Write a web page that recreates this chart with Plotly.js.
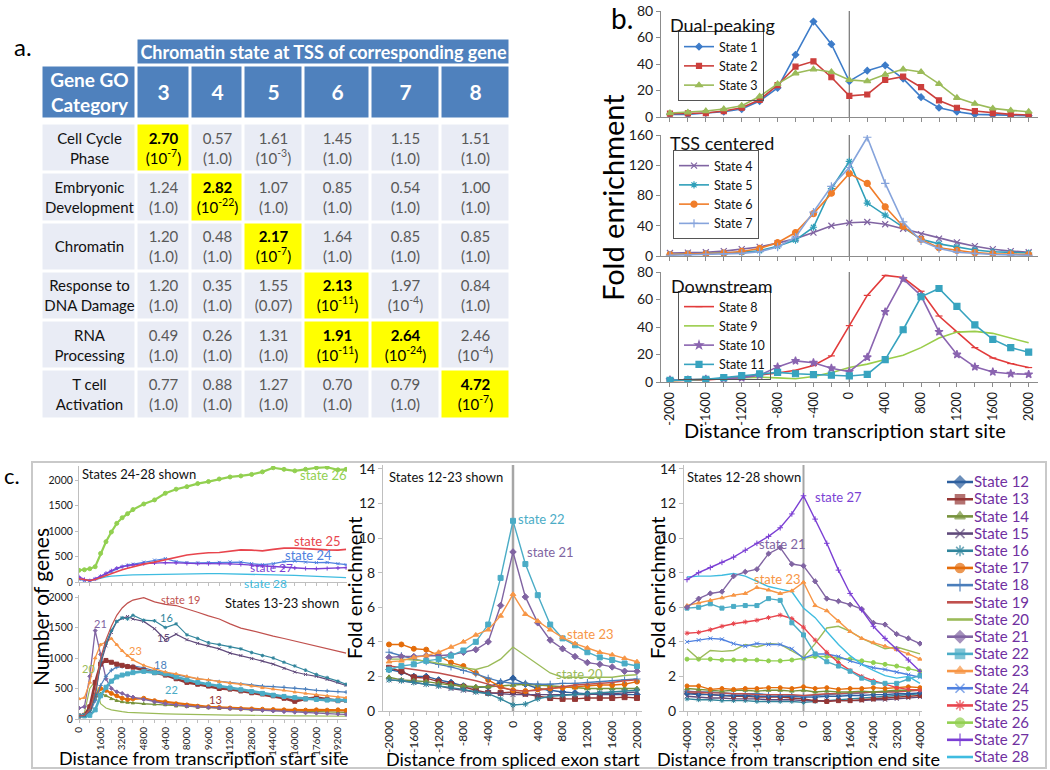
<!DOCTYPE html>
<html>
<head>
<meta charset="utf-8">
<script src="https://cdn.plot.ly/plotly-3.0.1.min.js"></script>
<style>
html,body{margin:0;padding:0;background:#ffffff;}
#chart{width:1050px;height:770px;}
</style>
</head>
<body>
<div id="chart"></div>
<script>
// ================= DATA =================
// ---- Panel a: GO category enrichment ----
const goCategories = ['Cell Cycle<br>Phase','Embryonic<br>Development','Chromatin','Response to<br>DNA Damage','RNA<br>Processing','T cell<br>Activation'];
const tssStates = ['3','4','5','6','7','8'];
const foldValues = [
  [2.70,0.57,1.61,1.45,1.15,1.51],
  [1.24,2.82,1.07,0.85,0.54,1.00],
  [1.20,0.48,2.17,1.64,0.85,0.85],
  [1.20,0.35,1.55,2.13,1.97,0.84],
  [0.49,0.26,1.31,1.91,2.64,2.46],
  [0.77,0.88,1.27,0.70,0.79,4.72]
];
const pValues = [
  ['10^-7','1.0','10^-3','1.0','1.0','1.0'],
  ['1.0','10^-22','1.0','1.0','1.0','1.0'],
  ['1.0','1.0','10^-7','1.0','1.0','1.0'],
  ['1.0','1.0','0.07','10^-11','10^-4','1.0'],
  ['1.0','1.0','1.0','10^-11','10^-24','10^-4'],
  ['1.0','1.0','1.0','1.0','1.0','10^-7']
];
const significant = [
  [true,false,false,false,false,false],
  [false,true,false,false,false,false],
  [false,false,true,false,false,false],
  [false,false,false,true,false,false],
  [false,false,false,true,true,false],
  [false,false,false,false,false,true]
];

// ---- Panel b: fold enrichment around TSS ----
const bDistance = [-2000,-1800,-1600,-1400,-1200,-1000,-800,-600,-400,-200,0,200,400,600,800,1000,1200,1400,1600,1800,2000];
const bTickLabels = ['-2000','-1600','-1200','-800','-400','0','400','800','1200','1600','2000'];
const bState1 = [2,2,3,4,6,12,22,47,72,55,27,35,39,29,15,7,4,2,1.5,1,1];
const bState2 = [2.5,2.8,3,4.5,7,13,24,38,42,30,16,17,28,30.5,22.5,12.5,7,4.5,3,2,1.5];
const bState3 = [3,3.5,4.5,6,8.5,15.5,25,33,36,34,28,27,32,36,34,25,14.5,10,6.5,5,4];
const bState4 = [4,4.5,5,6.5,9,12,17,23,31,40,44,45,42,36,29,23,18,13,9,6.5,5];
const bState5 = [2,2.5,3,3.5,5,7,13,21,38,89,125,70,54,39,22,16,11.5,8,5.7,4.5,4];
const bState6 = [2,2.5,3,4,6,10,17.6,31,56,83,109,96,65,39,22,11,7.5,4.4,3,2.5,2];
const bState7 = [1,1.5,2,2.5,3.5,5.7,12,25,58,92,117,157,96,45,20,10,5,3,2,1.5,1];
const bState8 = [1,1.2,1.5,2.4,3.7,5,6.5,8.5,12,19,41,63,77.5,76,66,48,36.5,25,17.5,13.4,10.5];
const bState9 = [1,1.5,2,2.5,3,3.5,3,2.4,4,6.8,10.5,13,16.3,19.5,25,32,36.3,36.8,35.4,32,28.5];
const bState10 = [1.5,1.5,2,2.5,3,5,11,15.4,14,10,7.5,18,51,75,62.7,36.5,20,11,7.3,6,5.6];
const bState11 = [1.2,1.7,2,3.2,4.6,6,7,6,5.4,5,4.4,5.5,16.3,38,62,68,55,41.5,31,25,21.7];

// ---- Panel c ----
const stateNames = ['State 12','State 13','State 14','State 15','State 16','State 17','State 18','State 19','State 20','State 21','State 22','State 23','State 24','State 25','State 26','State 27','State 28'];
// number of genes vs distance from TSS
const tssDistance = [0,400,800,1200,1600,2000,2400,2800,3200,3600,4000,4800,5600,6400,7200,8000,8800,9600,10400,11200,12000,12800,13600,14400,15200,16000,16800,17600,18400,19200,19800];
const tssTickLabels = ['0','1600','3200','4800','6400','8000','9600','11200','12800','14400','16000','17600','19200'];
const tssState13 = [50,60,200,600,900,960,930,900,880,860,850,800,760,720,660,600,570,540,500,490,460,430,410,380,340,290,330,350,320,300,310];
const tssState14 = [50,60,150,330,420,380,330,300,280,270,260,250,240,230,210,200,190,180,170,165,160,150,145,140,135,130,125,120,115,110,110];
const tssState15 = [50,60,130,380,900,1200,1420,1600,1650,1680,1640,1600,1480,1300,1390,1300,1240,1200,1150,1080,1040,990,950,900,830,770,730,700,650,600,550];
const tssState16 = [50,60,140,400,950,1250,1450,1600,1660,1640,1700,1620,1610,1500,1560,1380,1320,1250,1220,1180,1150,1090,1040,1000,930,870,800,730,680,620,570];
const tssState17 = [50,60,180,380,500,470,420,380,340,320,330,340,300,280,250,230,210,200,190,180,170,165,160,155,150,150,145,150,145,150,140];
const tssState18 = [50,60,100,300,550,700,800,850,860,870,870,840,790,760,720,690,660,640,610,590,570,555,540,530,520,505,490,470,460,450,440];
const tssState19 = [50,60,150,450,1000,1300,1520,1700,1820,1900,1950,1990,1920,1880,1860,1810,1750,1690,1640,1560,1490,1450,1400,1360,1320,1280,1240,1200,1160,1110,1080];
const tssState20 = [50,100,500,620,250,180,150,130,120,110,105,95,90,85,80,75,75,70,70,65,65,60,60,55,55,50,50,50,45,45,45];
const tssState21 = [180,200,700,1450,1060,660,500,446,420,380,360,320,280,250,230,210,200,190,180,170,160,150,140,130,120,110,100,95,90,80,75];
const tssState22 = [50,50,60,150,380,520,620,690,720,740,760,780,760,740,690,640,600,570,540,510,480,450,420,390,370,350,330,320,310,305,310];
const tssState23 = [330,350,600,1000,1220,1260,1320,1220,1120,1040,970,880,820,770,740,700,660,640,610,590,570,540,510,490,470,440,420,400,380,360,350];
const tssState24 = [50,30,30,60,110,160,210,260,300,330,350,390,430,460,400,380,375,380,385,395,390,360,340,360,400,410,390,380,385,360,340];
const tssState25 = [65,40,30,50,90,130,170,200,240,270,300,350,390,440,490,530,555,575,580,610,630,625,610,640,665,665,650,640,630,625,640];
const tssState26 = [230,240,260,300,560,790,980,1150,1260,1340,1420,1530,1610,1740,1820,1870,1930,1970,2020,2060,2080,2110,2160,2240,2210,2180,2210,2240,2250,2200,2210];
const tssState27 = [100,50,25,60,110,170,220,270,300,320,335,360,375,380,375,365,360,360,360,355,345,330,315,300,290,275,265,260,265,275,280];
const tssState28 = [60,35,25,45,80,100,115,125,130,135,140,145,150,155,160,162,165,165,163,160,158,155,150,145,140,130,120,110,100,90,85];
// fold enrichment vs distance from spliced exon start
const exonDistance = [-2000,-1800,-1600,-1400,-1200,-1000,-800,-600,-400,-200,0,200,400,600,800,1000,1200,1400,1600,1800,2000];
const exonTickLabels = ['-2000','-1600','-1200','-800','-400','0','400','800','1200','1600','2000'];
const exonState12 = [2.4,2.25,2.0,2.0,1.8,1.65,1.45,1.35,1.4,1.65,1.9,1.55,1.3,1.2,1.1,1.05,1.0,0.95,0.95,0.95,0.95];
const exonState13 = [2.5,2.3,1.95,1.9,1.7,1.55,1.4,1.2,1.05,1.05,1.1,1.0,0.85,0.75,0.7,0.7,0.75,0.75,0.75,0.8,0.75];
const exonState14 = [1.95,1.8,1.75,1.7,1.6,1.5,1.45,1.4,1.4,1.45,1.5,1.55,1.5,1.45,1.4,1.35,1.3,1.3,1.3,1.3,1.3];
const exonState15 = [1.8,1.75,1.65,1.55,1.45,1.3,1.2,1.1,1.05,1.0,0.95,0.95,0.95,0.95,0.95,0.95,0.95,1.0,1.0,1.05,1.1];
const exonState16 = [1.8,1.75,1.65,1.55,1.45,1.35,1.25,1.1,1.0,0.7,0.35,0.4,0.7,0.85,0.9,0.95,1.0,1.05,1.1,1.15,1.2];
const exonState17 = [3.85,3.85,3.6,3.55,3.2,2.8,2.6,2.2,1.8,1.4,1.2,1.15,1.25,1.3,1.35,1.4,1.45,1.5,1.5,1.55,1.7];
const exonState18 = [3.4,3.2,3.0,2.85,2.7,2.55,2.35,2.15,1.9,1.7,1.6,1.6,1.55,1.55,1.6,1.6,1.65,1.7,1.75,1.8,1.85];
const exonState19 = [2.6,2.5,2.4,2.3,2.2,2.05,1.9,1.75,1.55,1.35,1.2,1.15,1.2,1.3,1.4,1.5,1.55,1.6,1.65,1.75,1.8];
const exonState20 = [3.0,3.0,2.95,2.9,2.75,2.65,2.5,2.4,2.6,3.0,3.7,3.2,2.7,2.2,1.95,1.95,1.95,1.95,1.95,2.05,2.1];
const exonState21 = [3.1,3.15,3.15,3.2,3.2,3.25,3.4,3.55,4.0,6.1,9.2,6.6,5.1,4.1,3.6,3.15,2.8,2.7,2.55,2.3,2.3];
const exonState22 = [2.4,2.6,2.7,2.9,3.0,3.2,3.5,4.0,5.0,7.7,11.0,8.5,6.7,5.0,4.2,3.8,3.4,3.1,2.95,2.75,2.6];
const exonState23 = [2.85,2.9,3.1,3.2,3.4,3.7,4.0,4.4,4.7,5.5,6.75,5.6,5.2,4.7,4.25,3.9,3.65,3.4,3.25,3.05,2.85];
// fold enrichment vs distance from transcription end site
const tesDistance = [-4000,-3600,-3200,-2800,-2400,-2000,-1600,-1200,-800,-400,0,400,800,1200,1600,2000,2400,2800,3200,3600,4000];
const tesTickLabels = ['-4000','-3200','-2400','-1600','-800','0','800','1600','2400','3200','4000'];
const tesState12 = [1.0,0.95,0.95,0.9,0.9,0.9,0.85,0.85,0.85,0.85,0.8,0.8,0.85,0.85,0.9,0.9,0.95,0.95,1.0,1.0,1.05];
const tesState13 = [1.05,1.0,0.95,0.9,0.85,0.85,0.8,0.8,0.8,0.75,0.7,0.6,0.55,0.6,0.6,0.65,0.7,0.75,0.8,0.85,0.9];
const tesState14 = [1.3,1.25,1.2,1.15,1.2,1.2,1.15,1.2,1.2,1.15,1.2,1.1,1.15,1.1,1.1,1.15,1.1,1.15,1.2,1.2,1.25];
const tesState15 = [0.85,0.8,0.75,0.75,0.7,0.7,0.7,0.65,0.65,0.65,0.6,0.6,0.6,0.6,0.6,0.6,0.65,0.65,0.7,0.75,0.8];
const tesState16 = [0.7,0.65,0.65,0.6,0.6,0.6,0.55,0.55,0.55,0.55,0.5,0.55,0.6,0.65,0.7,0.75,0.8,0.85,0.9,0.95,1.0];
const tesState17 = [1.45,1.45,1.25,1.3,1.25,1.3,1.3,1.35,1.35,1.3,1.4,1.3,1.35,1.25,1.3,1.3,1.35,1.3,1.35,1.4,1.35];
const tesState18 = [1.15,1.1,1.1,1.05,1.0,1.0,1.0,0.95,0.95,0.9,0.85,0.9,0.95,1.0,1.0,1.05,1.1,1.1,1.15,1.2,1.2];
const tesState19 = [1.1,1.1,1.05,1.05,1.0,1.0,0.95,0.95,0.95,0.95,0.9,0.95,1.0,1.0,1.05,1.05,1.1,1.1,1.1,1.15,1.2];
const tesState20 = [3.6,3.0,3.5,3.45,3.5,3.85,3.7,3.9,3.85,3.45,3.1,3.9,4.8,4.9,4.6,4.2,3.9,3.6,3.7,3.5,3.3];
const tesState21 = [6.0,6.5,6.8,6.9,7.8,8.05,8.2,9.1,9.45,8.5,8.4,7.5,6.5,6.35,6.15,5.9,5.1,5.0,4.45,4.2,3.9];
const tesState22 = [5.95,6.0,6.2,5.95,6.05,6.1,6.1,6.5,6.4,5.1,4.4,3.3,2.85,2.6,2.3,1.9,1.65,1.6,1.6,1.85,2.05];
const tesState23 = [6.1,6.25,6.4,6.55,6.7,6.8,7.15,7.0,6.8,6.95,7.45,6.1,5.8,5.2,4.6,4.2,3.95,3.75,3.55,3.3,3.0];
const tesState24 = [4.0,4.1,4.2,4.15,3.9,3.75,3.9,3.85,3.85,3.6,3.05,3.3,3.3,3.15,2.9,2.7,2.5,2.4,2.25,2.1,1.95];
const tesState25 = [4.5,4.55,4.7,4.9,5.05,5.15,5.25,5.4,5.55,5.35,4.85,4.1,3.4,2.8,2.35,2.0,1.75,1.55,1.35,1.25,1.2];
const tesState26 = [3.0,3.0,3.0,2.95,2.95,2.95,2.95,2.9,2.9,2.95,3.05,3.15,3.15,3.05,3.0,2.9,2.8,2.7,2.6,2.45,2.3];
const tesState27 = [7.6,8.0,8.3,8.6,8.9,9.3,9.7,10.1,10.6,11.4,12.45,11.1,9.7,8.15,6.8,5.85,4.9,4.2,3.6,2.95,2.3];
const tesState28 = [7.75,7.8,7.8,7.85,7.95,7.8,7.5,7.2,7.05,6.9,5.95,5.4,4.6,3.85,3.2,2.7,2.35,2.05,1.9,2.0,1.6];

// ================= STYLE / LAYOUT HELPERS =================
const FONT = 'Lato, "Open Sans", "DejaVu Sans", sans-serif';
const W = 1050, H = 770;
const fx = p => p / W;
const fy = p => 1 - p / H;
const domX = (a, b) => [fx(a), fx(b)];
const domY = (top, bottom) => [fy(bottom), fy(top)];

const traces = [];

// ---------- Panel a: table drawn as heatmap bricks ----------
const colW = [95,54,53,60,67,70,70];
const xEdges = colW.reduce((acc, w) => { acc.push(acc[acc.length-1] + w); return acc; }, [0]);
const mergedRowH = 27, headRowH = 54, headGap = 4, bodyRowH = 49.25;
const bodyTop = mergedRowH + headRowH + headGap;
const bodyEdges = [bodyTop];
goCategories.forEach(() => bodyEdges.push(bodyEdges[bodyEdges.length-1] + bodyRowH));
const tableScale = [[0,'#e9ecf5'],[0.3333,'#e9ecf5'],[0.3334,'#ffff00'],[0.6666,'#ffff00'],[0.6667,'#4f81bd'],[1,'#4f81bd']];
const perLine = (s, style) => s.split('<br>').map(l => `<span style="${style}">${l}</span>`).join('<br>');
const pText = p => p.startsWith('10^') ? `(10<sup>${p.slice(3)}</sup>)` : `(${p})`;

const bodyZ = goCategories.map((c, r) => [0].concat(significant[r].map(b => b ? 1 : 0)));
const bodyText = goCategories.map((cat, r) => {
  const row = [perLine(cat, 'color:#111111')];
  tssStates.forEach((s, c) => {
    const v = foldValues[r][c].toFixed(2);
    const p = pText(pValues[r][c]);
    if (significant[r][c]) row.push(`<span style="color:#000000"><b>${v}</b></span><br><span style="color:#000000">${p}</span>`);
    else row.push(`${v}<br>${p}`);
  });
  return row;
});
const hmBase = {type:'heatmap', xaxis:'x8', yaxis:'y8', colorscale:tableScale, zmin:0, zmax:2, showscale:false, xgap:3, ygap:3, hoverinfo:'skip', texttemplate:'%{text}'};
traces.push(Object.assign({}, hmBase, {x:[xEdges[1], xEdges[7]], y:[0, mergedRowH], z:[[2]], text:[['<b>Chromatin state at TSS of corresponding gene</b>']], textfont:{family:FONT, size:18, color:'#ffffff'}}));
traces.push(Object.assign({}, hmBase, {x:[xEdges[0], xEdges[1]], y:[mergedRowH, mergedRowH+headRowH], z:[[2]], text:[['<b>Gene GO</b><br><b>Category</b>']], textfont:{family:FONT, size:19, color:'#ffffff'}}));
traces.push(Object.assign({}, hmBase, {x:xEdges.slice(1), y:[mergedRowH, mergedRowH+headRowH], z:[tssStates.map(() => 2)], text:[tssStates.map(s => `<b>${s}</b>`)], textfont:{family:FONT, size:21, color:'#ffffff'}}));
traces.push(Object.assign({}, hmBase, {x:xEdges, y:bodyEdges, z:bodyZ, text:bodyText, textfont:{family:FONT, size:15, color:'#595959'}}));

// ---------- Panel b ----------
const bSeries = [
  {name:'State 1', y:bState1, ax:'', lg:'legend', color:'#3d7cc9', symbol:'diamond', size:5},
  {name:'State 2', y:bState2, ax:'', lg:'legend', color:'#cc3f3c', symbol:'square', size:5},
  {name:'State 3', y:bState3, ax:'', lg:'legend', color:'#9bbb59', symbol:'triangle-up', size:6},
  {name:'State 4', y:bState4, ax:'2', lg:'legend2', color:'#8064a2', symbol:'x-thin-open', size:6},
  {name:'State 5', y:bState5, ax:'2', lg:'legend2', color:'#2f9fb9', symbol:'asterisk-open', size:6},
  {name:'State 6', y:bState6, ax:'2', lg:'legend2', color:'#f07d2a', symbol:'circle', size:6},
  {name:'State 7', y:bState7, ax:'2', lg:'legend2', color:'#86a4dc', symbol:'cross-thin-open', size:6},
  {name:'State 8', y:bState8, ax:'3', lg:'legend3', color:'#e23b3b', symbol:'line-ew-open', size:5},
  {name:'State 9', y:bState9, ax:'3', lg:'legend3', color:'#9acd4a', symbol:null, size:0},
  {name:'State 10', y:bState10, ax:'3', lg:'legend3', color:'#8a64b0', symbol:'star', size:6},
  {name:'State 11', y:bState11, ax:'3', lg:'legend3', color:'#37a3bf', symbol:'square', size:6}
];
bSeries.forEach(s => {
  traces.push({type:'scatter', x:bDistance, y:s.y, xaxis:'x'+s.ax, yaxis:'y'+s.ax, name:s.name, legend:s.lg,
    mode: s.symbol ? 'lines+markers' : 'lines', line:{color:s.color, width:1.6},
    marker:{symbol:s.symbol || 'circle', size:s.size, color:s.color, line:{color:s.color, width:1.2}}, hoverinfo:'skip'});
});

// ---------- Panel c ----------
const cColor = {12:'#2d5f9e',13:'#953735',14:'#77933c',15:'#604a7b',16:'#31859c',17:'#e46c0a',18:'#4a7ebb',19:'#c0504d',20:'#9bbb59',21:'#8064a2',22:'#4bacc6',23:'#f79646',24:'#4f81e0',25:'#e8454d',26:'#92d050',27:'#7b3fd4',28:'#3fbce0'};
const cSymbol = {12:'diamond',13:'square',14:'triangle-up',15:'x-thin-open',16:'asterisk-open',17:'circle',18:'cross-thin-open',19:null,20:null,21:'diamond',22:'square',23:'triangle-up',24:'x-thin-open',25:'asterisk-open',26:'circle',27:'cross-thin-open',28:null};
function cTrace(id, x, y, ax, width, msize) {
  const sym = cSymbol[id];
  return {type:'scatter', x:x, y:y, xaxis:'x'+ax, yaxis:'y'+ax, showlegend:false, hoverinfo:'skip',
    mode: (sym && msize) ? 'lines+markers' : 'lines', line:{color:cColor[id], width:width},
    marker:{symbol:sym || 'circle', size:msize, color:cColor[id], line:{color:cColor[id], width:1}}};
}
// c1 top: states 24-28
[[28,tssState28,1.3,0],[24,tssState24,1.3,3],[27,tssState27,1.3,3],[25,tssState25,1.6,0],[26,tssState26,2.2,4]]
  .forEach(d => traces.push(cTrace(d[0], tssDistance, d[1], '4', d[2], d[3])));
// c1 bottom: states 13-23
[[20,tssState20,1.2,0],[14,tssState14,1.3,3],[17,tssState17,2.2,4],[21,tssState21,1.3,3],[18,tssState18,1.2,3],
 [13,tssState13,2.6,4],[22,tssState22,2.6,4],[23,tssState23,1.3,3],[15,tssState15,1.2,3],[16,tssState16,1.2,3],[19,tssState19,1.2,0]]
  .forEach(d => traces.push(cTrace(d[0], tssDistance, d[1], '5', d[2], d[3])));
// c2: states 12-23
[[12,exonState12],[13,exonState13],[14,exonState14],[15,exonState15],[16,exonState16],[17,exonState17],[18,exonState18],
 [19,exonState19],[20,exonState20],[21,exonState21],[22,exonState22],[23,exonState23]]
  .forEach(d => traces.push(cTrace(d[0], exonDistance, d[1], '6', 1.4, 5)));
// c3: states 12-28
[[16,tesState16],[15,tesState15],[13,tesState13],[12,tesState12],[18,tesState18],[19,tesState19],[14,tesState14],[17,tesState17],
 [26,tesState26],[20,tesState20],[24,tesState24],[25,tesState25],[22,tesState22],[28,tesState28],[23,tesState23],[21,tesState21],[27,tesState27]]
  .forEach(d => traces.push(cTrace(d[0], tesDistance, d[1], '7', 1.4, 4)));
// c legend (drawn on its own small axis pair; labels are the y tick labels)
stateNames.forEach((nm, i) => {
  const id = 12 + i, sym = cSymbol[id];
  traces.push({type:'scatter', xaxis:'x9', yaxis:'y9', x:[0,0.5,1], y:[nm,nm,nm], showlegend:false, hoverinfo:'skip', cliponaxis:false,
    mode: sym ? 'lines+markers' : 'lines', line:{color:cColor[id], width:2.6},
    marker:{symbol:sym || 'circle', size:[0,9,0], color:cColor[id], line:{color:cColor[id], width:1.6}}});
});

// ---------- axes ----------
const GREY = '#8c8c8c', LGREY = '#bfbfbf';
function axis(extra) {
  return Object.assign({showgrid:false, zeroline:false, showline:true, linecolor:GREY, linewidth:1, ticks:'outside', ticklen:4,
    tickcolor:GREY, tickfont:{family:FONT, size:14, color:'#1a1a1a'}, fixedrange:true}, extra);
}
const bTicks = bTickLabels.map(Number);
const bX = (anchor, labels) => axis({domain:domX(661,1038), range:[-2100,2104], anchor:anchor, tickmode:'array', tickvals:bTicks, ticktext:bTickLabels,
  showticklabels:labels, tickangle:-90, tickfont:{family:FONT, size:12.5, color:'#1a1a1a'},
  minor:{tick0:-2000, dtick:200, ticks:'outside', ticklen:4, tickcolor:GREY}});
const tssTicks = tssTickLabels.map(Number);
const cX1 = (anchor, labels) => axis({domain:domX(79,347), range:[0,19870], anchor:anchor, tickmode:'array', tickvals:tssTicks, ticktext:tssTickLabels,
  showticklabels:labels, tickangle:-90, linecolor:LGREY, tickcolor:LGREY, ticklen:3, tickfont:{family:FONT, size:10, color:'#1a1a1a'},
  minor:{tick0:0, dtick:800, ticks:'outside', ticklen:3, tickcolor:LGREY}});

const legendBase = {xanchor:'left', yanchor:'top', bordercolor:'#555', borderwidth:1, bgcolor:'rgba(255,255,255,0)', font:{family:FONT,size:12.5,color:'#111'}, tracegroupgap:0};
const layout = {
  width:W, height:H, autosize:false, margin:{l:0,r:0,t:0,b:0},
  paper_bgcolor:'#ffffff', plot_bgcolor:'rgba(0,0,0,0)', showlegend:true,
  font:{family:FONT, color:'#000'},
  xaxis: bX('y', false),
  yaxis: axis({domain:domY(11,117), range:[0,80], dtick:20, anchor:'x'}),
  xaxis2: bX('y2', false),
  yaxis2: axis({domain:domY(135,256), range:[0,160], dtick:40, anchor:'x2'}),
  xaxis3: bX('y3', true),
  yaxis3: axis({domain:domY(272,382), range:[0,80], dtick:20, anchor:'x3'}),
  xaxis4: cX1('y4', false),
  yaxis4: axis({domain:domY(466,582), range:[0,2275], dtick:500, anchor:'x4', linecolor:LGREY, tickcolor:LGREY, ticklen:3, tickfont:{family:FONT,size:10.5,color:'#1a1a1a'}}),
  xaxis5: cX1('y5', true),
  yaxis5: axis({domain:domY(595,719), range:[0,2033], dtick:500, anchor:'x5', linecolor:LGREY, tickcolor:LGREY, ticklen:3, tickfont:{family:FONT,size:10.5,color:'#1a1a1a'}}),
  xaxis6: axis({domain:domX(383,642), range:[-2097,2081], anchor:'y6', tickmode:'array', tickvals:exonTickLabels.map(Number), ticktext:exonTickLabels,
    tickangle:-90, linecolor:LGREY, tickcolor:LGREY, tickfont:{family:FONT,size:12,color:'#1a1a1a'},
    minor:{tick0:-2000, dtick:200, ticks:'outside', ticklen:3, tickcolor:LGREY}}),
  yaxis6: axis({domain:domY(465,711), range:[0,14.23], dtick:2, anchor:'x6', linecolor:LGREY, tickcolor:LGREY, tickfont:{family:FONT,size:14,color:'#1a1a1a'}}),
  xaxis7: axis({domain:domX(684,922), range:[-4103,4069], anchor:'y7', tickmode:'array', tickvals:tesTickLabels.map(Number), ticktext:tesTickLabels,
    tickangle:-90, linecolor:LGREY, tickcolor:LGREY, tickfont:{family:FONT,size:12,color:'#1a1a1a'},
    minor:{tick0:-4000, dtick:400, ticks:'outside', ticklen:3, tickcolor:LGREY}}),
  yaxis7: axis({domain:domY(465,711), range:[0,14.23], dtick:2, anchor:'x7', linecolor:LGREY, tickcolor:LGREY, tickfont:{family:FONT,size:14,color:'#1a1a1a'}}),
  xaxis8: {domain:domX(41.5,510.5), range:[0,469], visible:false, fixedrange:true, anchor:'y8'},
  yaxis8: {domain:domY(38.5,419.5), range:[381,0], visible:false, fixedrange:true, anchor:'x8'},
  xaxis9: {domain:domX(947,973), range:[0,1], visible:false, fixedrange:true, anchor:'y9'},
  yaxis9: {domain:domY(473.4,765.6), type:'category', categoryorder:'array', categoryarray:stateNames, range:[16.5,-0.5],
    tickmode:'array', tickvals:stateNames, ticktext:stateNames,
    side:'right', anchor:'x9', showline:false, ticks:'', showgrid:false, zeroline:false, fixedrange:true,
    tickfont:{family:FONT, size:15, color:'#7030a0'}},
  legend:  Object.assign({x:fx(678), y:fy(31)}, legendBase),
  legend2: Object.assign({x:fx(673), y:fy(150)}, legendBase),
  legend3: Object.assign({x:fx(678), y:fy(291)}, legendBase),
  shapes: [
    {type:'line', xref:'x', yref:'y domain', x0:0, x1:0, y0:0, y1:1, line:{color:'#7f7f7f', width:1.3}, layer:'below'},
    {type:'line', xref:'x2', yref:'y2 domain', x0:0, x1:0, y0:0, y1:1, line:{color:'#7f7f7f', width:1.3}, layer:'below'},
    {type:'line', xref:'x3', yref:'y3 domain', x0:0, x1:0, y0:0, y1:1, line:{color:'#7f7f7f', width:1.3}, layer:'below'},
    {type:'line', xref:'x6', yref:'y6 domain', x0:0, x1:0, y0:0, y1:1, line:{color:'#a6a6a6', width:2.5}, layer:'below'},
    {type:'line', xref:'x7', yref:'y7 domain', x0:0, x1:0, y0:0, y1:1, line:{color:'#a6a6a6', width:2}, layer:'below'},
    {type:'rect', xref:'paper', yref:'paper', x0:fx(32), x1:fx(1046), y0:fy(768), y1:fy(462), line:{color:'#c9c9c9', width:2}, layer:'below'}
  ],
  annotations: []
};

function note(text, px, py, size, color, anchor, angle) {
  layout.annotations.push({text:text, x:fx(px), y:fy(py), xref:'paper', yref:'paper', showarrow:false,
    xanchor:anchor || 'center', yanchor:'middle', textangle:angle || 0, font:{family:FONT, size:size, color:color || '#000'}});
}
// panel labels
note('a.', 23, 47, 24);
note('b.', 622, 18, 28);
note('c.', 12, 475, 22);
// panel b texts
note('Dual-peaking', 668, 25, 18, '#111', 'left');
note('TSS centered', 668, 143, 18, '#111', 'left');
note('Downstream', 669, 286, 18, '#111', 'left');
note('Fold enrichment', 613, 198, 29, '#000', 'center', -90);
note('Distance from transcription start site', 845, 430, 20, '#000');
// panel c axis titles
note('Number of genes', 40, 607, 21, '#000', 'center', -90);
note('Distance from transcription start site', 204, 758, 18, '#000');
note('Fold enrichment', 354, 588, 20, '#000', 'center', -90);
note('Distance from spliced exon start', 513, 759, 18, '#000');
note('Fold enrichment', 657, 588, 20, '#000', 'center', -90);
note('Distance from transcription end site', 798, 759, 18, '#000');
// panel c in-plot texts
note('States 24-28 shown', 80, 474, 13, '#111', 'left');
note('States 13-23 shown', 223, 603, 13, '#111', 'left');
note('States 12-23 shown', 387, 477, 13, '#111', 'left');
note('States 12-28 shown', 685, 477, 13, '#111', 'left');
note('state 26', 298, 475, 13, cColor[26], 'left');
note('state 25', 292, 541, 13, cColor[25], 'left');
note('state 24', 283, 555, 13, cColor[24], 'left');
note('state 27', 248, 567, 12, cColor[27], 'left');
note('state 28', 242, 583, 12, cColor[28], 'left');
note('state 19', 159, 599, 11, cColor[19], 'left');
note('21', 92, 623, 11, cColor[21], 'left');
note('16', 158, 617, 11, cColor[16], 'left');
note('15', 155, 637, 11, cColor[15], 'left');
note('23', 127, 650, 11, cColor[23], 'left');
note('18', 152, 664, 11, cColor[18], 'left');
note('22', 163, 689, 11, cColor[22], 'left');
note('13', 207, 699, 11, cColor[13], 'left');
note('20', 80, 668, 11, cColor[20], 'left');
note('state 22', 516, 519, 13, cColor[22], 'left');
note('state 21', 525, 552, 13, cColor[21], 'left');
note('state 23', 565, 634, 13, cColor[23], 'left');
note('state 20', 554, 674, 13, cColor[20], 'left');
note('state 27', 813, 497, 13, cColor[27], 'left');
note('state 21', 757, 544, 13, cColor[21], 'left');
note('state 23', 752, 579, 13, cColor[23], 'left');

Plotly.newPlot('chart', traces, layout, {displayModeBar:false, staticPlot:true});
</script>
</body>
</html>
